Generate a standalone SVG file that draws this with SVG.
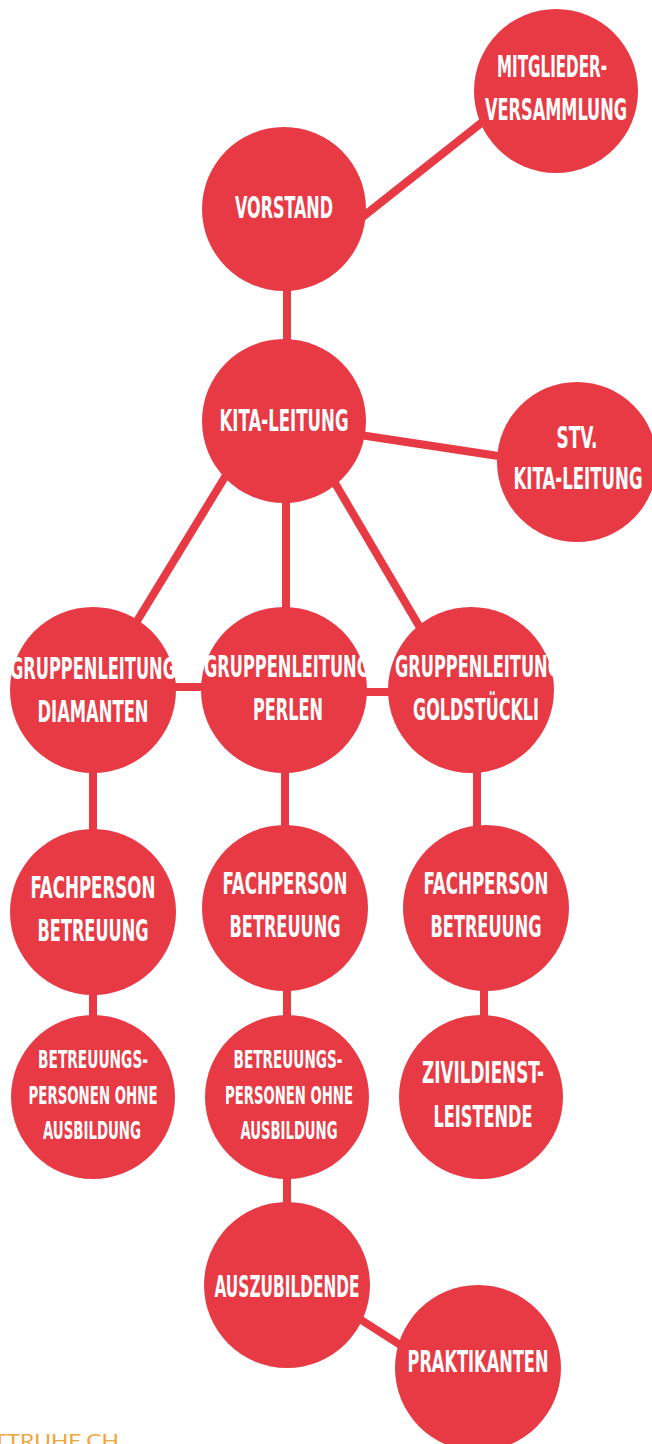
<svg xmlns="http://www.w3.org/2000/svg" width="652" height="1444" viewBox="0 0 652 1444">
<defs>
<style>
.n{fill:#E73A45}
.c line{stroke:#E73A45;stroke-width:8;stroke-linecap:butt}
.t{fill:#fff;font-family:"DejaVu Sans Condensed","Liberation Sans Narrow","DejaVu Sans",sans-serif;font-weight:bold;font-size:30px;text-anchor:middle}
.s{font-size:25px}
.f{fill:#F3A437;font-family:Lato,"Open Sans",sans-serif;font-weight:400;font-size:18px;text-anchor:end}
</style>
<clipPath id="cp"><rect x="0" y="600" width="367" height="180"/></clipPath>
<clipPath id="cg"><rect x="380" y="600" width="174" height="180"/></clipPath>
</defs>
<rect width="652" height="1444" fill="#fff"/>
<g id="connectors" class="c">
<line x1="360" y1="219" x2="485" y2="120"/>
<line x1="287" y1="280" x2="287" y2="350"/>
<line x1="360" y1="435" x2="505" y2="457"/>
<line x1="228" y1="472" x2="134" y2="626"/>
<line x1="286" y1="495" x2="286" y2="615"/>
<line x1="332" y1="478" x2="422" y2="631"/>
<line x1="170" y1="687" x2="208" y2="687"/>
<line x1="360" y1="692" x2="395" y2="692"/>
<line x1="93" y1="765" x2="93" y2="835"/>
<line x1="285" y1="765" x2="285" y2="832"/>
<line x1="477" y1="765" x2="477" y2="832"/>
<line x1="93" y1="990" x2="93" y2="1020"/>
<line x1="287" y1="985" x2="287" y2="1020"/>
<line x1="484" y1="985" x2="484" y2="1020"/>
<line x1="287" y1="1175" x2="287" y2="1208"/>
<line x1="355" y1="1316" x2="405" y2="1348"/>
</g>
<g id="mitglieder"><circle class="n" cx="556" cy="91" r="82"/>
<text class="t" x="552" y="77" textLength="110" lengthAdjust="spacingAndGlyphs">MITGLIEDER-</text>
<text class="t" x="556" y="120" textLength="142" lengthAdjust="spacingAndGlyphs">VERSAMMLUNG</text></g>
<g id="vorstand"><circle class="n" cx="284" cy="209" r="82"/>
<text class="t" x="284" y="218" textLength="98" lengthAdjust="spacingAndGlyphs">VORSTAND</text></g>
<g id="kita"><circle class="n" cx="284" cy="421" r="82"/>
<text class="t" x="284" y="431" textLength="129" lengthAdjust="spacingAndGlyphs">KITA-LEITUNG</text></g>
<g id="stv"><circle class="n" cx="577" cy="462" r="80"/>
<text class="t" x="577" y="448" textLength="41" lengthAdjust="spacingAndGlyphs">STV.</text>
<text class="t" x="578" y="489" textLength="129" lengthAdjust="spacingAndGlyphs">KITA-LEITUNG</text></g>
<g id="diamanten"><circle class="n" cx="93" cy="690" r="83"/>
<text class="t" x="93" y="679" textLength="166" lengthAdjust="spacingAndGlyphs">GRUPPENLEITUNG</text>
<text class="t" x="93" y="722" textLength="111" lengthAdjust="spacingAndGlyphs">DIAMANTEN</text></g>
<g id="perlen"><circle class="n" cx="284" cy="690" r="83"/>
<text class="t" x="287" y="677" textLength="166" lengthAdjust="spacingAndGlyphs" clip-path="url(#cp)">GRUPPENLEITUNG</text>
<text class="t" x="288" y="720" textLength="70" lengthAdjust="spacingAndGlyphs">PERLEN</text></g>
<g id="goldstueckli"><circle class="n" cx="471" cy="690" r="83"/>
<text class="t" x="478" y="677" textLength="166" lengthAdjust="spacingAndGlyphs" clip-path="url(#cg)">GRUPPENLEITUNG</text>
<text class="t" x="476" y="720" textLength="126" lengthAdjust="spacingAndGlyphs">GOLDSTÜCKLI</text></g>
<g id="fach1"><circle class="n" cx="93" cy="912" r="83"/>
<text class="t" x="93" y="898" textLength="125" lengthAdjust="spacingAndGlyphs">FACHPERSON</text>
<text class="t" x="93" y="941" textLength="111" lengthAdjust="spacingAndGlyphs">BETREUUNG</text></g>
<g id="fach2"><circle class="n" cx="285" cy="908" r="83"/>
<text class="t" x="285" y="894" textLength="125" lengthAdjust="spacingAndGlyphs">FACHPERSON</text>
<text class="t" x="285" y="937" textLength="111" lengthAdjust="spacingAndGlyphs">BETREUUNG</text></g>
<g id="fach3"><circle class="n" cx="486" cy="908" r="83"/>
<text class="t" x="486" y="894" textLength="125" lengthAdjust="spacingAndGlyphs">FACHPERSON</text>
<text class="t" x="486" y="937" textLength="111" lengthAdjust="spacingAndGlyphs">BETREUUNG</text></g>
<g id="betr1"><circle class="n" cx="93" cy="1097" r="82"/>
<text class="t s" x="93" y="1068" textLength="110" lengthAdjust="spacingAndGlyphs">BETREUUNGS-</text>
<text class="t s" x="93" y="1104" textLength="129" lengthAdjust="spacingAndGlyphs">PERSONEN OHNE</text>
<text class="t s" x="92" y="1139" textLength="98" lengthAdjust="spacingAndGlyphs">AUSBILDUNG</text></g>
<g id="betr2"><circle class="n" cx="287" cy="1097" r="82"/>
<text class="t s" x="288" y="1068" textLength="109" lengthAdjust="spacingAndGlyphs">BETREUUNGS-</text>
<text class="t s" x="289" y="1104" textLength="128" lengthAdjust="spacingAndGlyphs">PERSONEN OHNE</text>
<text class="t s" x="289" y="1139" textLength="97" lengthAdjust="spacingAndGlyphs">AUSBILDUNG</text></g>
<g id="zivildienst"><circle class="n" cx="481" cy="1097" r="82"/>
<text class="t" x="483" y="1083" textLength="122" lengthAdjust="spacingAndGlyphs">ZIVILDIENST-</text>
<text class="t" x="483" y="1127" textLength="99" lengthAdjust="spacingAndGlyphs">LEISTENDE</text></g>
<g id="auszubildende"><circle class="n" cx="287" cy="1285" r="83"/>
<text class="t" x="287" y="1297" textLength="145" lengthAdjust="spacingAndGlyphs">AUSZUBILDENDE</text></g>
<g id="praktikanten"><circle class="n" cx="478" cy="1368" r="83"/>
<text class="t" x="478" y="1372" textLength="141" lengthAdjust="spacingAndGlyphs">PRAKTIKANTEN</text></g>
<text class="f" x="119" y="1447" textLength="126" lengthAdjust="spacingAndGlyphs">TTRUHE.CH</text>
</svg>
